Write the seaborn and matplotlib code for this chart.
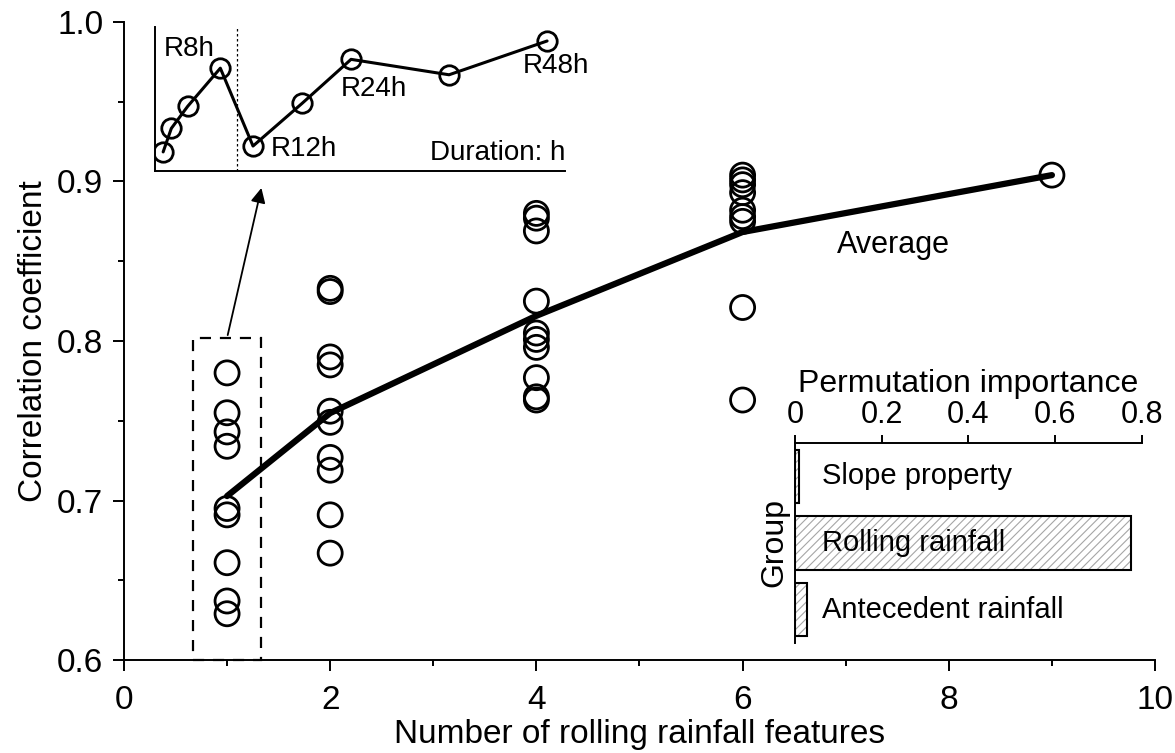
import numpy as np
import pandas as pd
import matplotlib
matplotlib.use("Agg")
import matplotlib.pyplot as plt
from matplotlib.patches import Rectangle
import seaborn as sns

# Correlation coefficient of each sampled feature combination, by number of rolling-rainfall features
corr_1 = [0.780, 0.755, 0.743, 0.734, 0.695, 0.691, 0.661, 0.637, 0.629]
corr_2 = [0.833, 0.831, 0.790, 0.785, 0.756, 0.749, 0.727, 0.719, 0.691, 0.667]
corr_4 = [0.880, 0.877, 0.869, 0.825, 0.805, 0.801, 0.796, 0.777, 0.765, 0.763]
corr_6 = [0.904, 0.901, 0.898, 0.893, 0.882, 0.878, 0.875, 0.821, 0.763]
corr_9 = [0.904]
n_features = [1, 2, 4, 6, 9]

# Single rolling-rainfall features: window duration (h) and correlation
durations_h = [1, 2, 4, 8, 12, 18, 24, 36, 48]
single_corr = [0.629, 0.661, 0.691, 0.743, 0.637, 0.695, 0.755, 0.734, 0.780]
duration_labels = {8: "R8h", 12: "R12h", 24: "R24h", 48: "R48h"}

# Grouped permutation importance
groups = ["Slope property", "Rolling rainfall", "Antecedent rainfall"]
importance = [0.010, 0.775, 0.028]

rows = []
for n, vals in zip(n_features, [corr_1, corr_2, corr_4, corr_6, corr_9]):
    rows += [(n, v) for v in vals]
df = pd.DataFrame(rows, columns=["n", "corr"])
df_single = pd.DataFrame({"hours": durations_h, "corr": single_corr})
df_imp = pd.DataFrame({"group": groups, "importance": importance})

sns.set_theme(style="ticks")
plt.rcParams["font.family"] = ["Liberation Sans", "DejaVu Sans"]
plt.rcParams["axes.linewidth"] = 1.4
plt.rcParams["hatch.linewidth"] = 0.8
for key in ["text.color", "axes.labelcolor", "xtick.color", "ytick.color", "axes.edgecolor"]:
    plt.rcParams[key] = "black"

fig = plt.figure(figsize=(11.75, 7.53), dpi=100)
ax = fig.add_axes([0.1055, 0.1235, 0.8775, 0.8473])

sns.scatterplot(data=df, x="n", y="corr", ax=ax, marker="o", s=300,
                facecolors="none", edgecolor="black", linewidth=2.0, zorder=3)
sns.lineplot(data=df, x="n", y="corr", ax=ax, estimator="mean", errorbar=None,
             color="black", linewidth=4.5, zorder=2)

ax.set_xlim(0, 10)
ax.set_ylim(0.6, 1.0)
ax.set_xticks([0, 2, 4, 6, 8, 10])
ax.set_xticks([1, 3, 5, 7, 9], minor=True)
ax.set_yticks([0.6, 0.7, 0.8, 0.9, 1.0])
ax.set_yticks([0.65, 0.75, 0.85, 0.95], minor=True)
ax.yaxis.set_major_formatter(matplotlib.ticker.FormatStrFormatter("%.1f"))
ax.tick_params(which="major", direction="out", length=8, width=1.4, labelsize=24, pad=7)
ax.tick_params(axis="x", which="major", pad=10)
ax.tick_params(which="minor", direction="out", length=4, width=1.4)
ax.set_xlabel("Number of rolling rainfall features", fontsize=24, labelpad=2)
ax.set_ylabel("Correlation coefficient", fontsize=24, labelpad=6)
sns.despine(ax=ax)
ax.text(7.46, 0.860, "Average", fontsize=22, ha="center", va="center")

# Dashed box around the single-feature models and arrow to the inset
ax.add_patch(Rectangle((0.67, 0.6), 0.66, 0.202, fill=False, edgecolor="black",
                       linestyle=(0, (5, 4)), linewidth=1.6, clip_on=False, zorder=4))
ax.annotate("", xy=(0.223, 0.754), xycoords="figure fraction",
            xytext=(1.0, 0.802), textcoords="data",
            arrowprops=dict(arrowstyle="-|>", color="black", lw=1.3, mutation_scale=22))

# Inset: single rolling-rainfall features by duration
axi = fig.add_axes([0.1319, 0.7729, 0.349, 0.1912])
sns.lineplot(data=df_single, x="hours", y="corr", ax=axi, color="black", linewidth=2.2,
             marker="o", markersize=14, markerfacecolor="none", markeredgecolor="black",
             markeredgewidth=2.0)
axi.axvline(10, color="black", linestyle=(0, (2, 2)), linewidth=0.9)
axi.set_xlim(0, 50.2)
axi.set_ylim(0.603, 0.799)
axi.set_xticks([])
axi.set_yticks([])
axi.set_xlabel("")
axi.set_ylabel("")
axi.patch.set_alpha(0)
sns.despine(ax=axi)
label_pos = {8: (4.2, 0.769), 12: (18.2, 0.633), 24: (26.8, 0.715), 48: (49.1, 0.746)}
for h, txt in duration_labels.items():
    x, y = label_pos[h]
    axi.text(x, y, txt, fontsize=20, ha="center", va="center", clip_on=False)
axi.text(50.2, 0.627, "Duration: h", fontsize=20, ha="right", va="center")

# Inset: grouped permutation importance
axb = fig.add_axes([0.6766, 0.1461, 0.2953, 0.2656])
sns.barplot(data=df_imp, y="group", x="importance", ax=axb, orient="h", width=0.8,
            color="white", edgecolor="0.65", hatch="////", linewidth=0)
sns.barplot(data=df_imp, y="group", x="importance", ax=axb, orient="h", width=0.8,
            fill=False, color="black", linewidth=1.5)
axb.set_xlim(0, 0.8)
axb.set_ylim(2.5, -0.5)
axb.xaxis.tick_top()
axb.xaxis.set_label_position("top")
axb.set_xticks([0, 0.2, 0.4, 0.6, 0.8])
axb.set_xticklabels(["0", "0.2", "0.4", "0.6", "0.8"])
axb.set_yticks([])
axb.tick_params(axis="x", direction="out", length=6, width=1.4, labelsize=22, pad=3)
axb.set_xlabel("Permutation importance", fontsize=23, labelpad=6)
axb.set_ylabel("Group", fontsize=23, labelpad=4)
for side in ["bottom", "right"]:
    axb.spines[side].set_visible(False)
axb.patch.set_alpha(0)
for i, g in enumerate(groups):
    axb.text(0.062, i, g, fontsize=21, ha="left", va="center")

fig.savefig("out.png", dpi=100)
